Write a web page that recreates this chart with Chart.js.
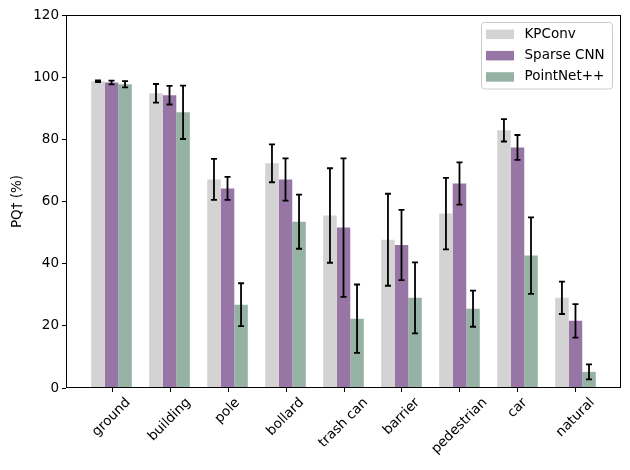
<!DOCTYPE html>
<html>
<head>
<meta charset="utf-8">
<script src="https://cdn.jsdelivr.net/npm/chart.js@4.4.1/dist/chart.umd.min.js"></script>
<style>
  html, body { margin: 0; padding: 0; background: #fff; }
  #wrap { width: 630px; height: 470px; }
</style>
</head>
<body>
<div id="wrap"><canvas id="c" width="630" height="470"></canvas></div>
<script>
const categories = ["ground", "building", "pole", "bollard", "trash can", "barrier", "pedestrian", "car", "natural"];
const seriesNames = ["KPConv", "Sparse CNN", "PointNet++"];
const kpconv      = [98.7, 94.8, 67.1, 72.3, 55.5, 47.7, 56.1, 82.9, 29.0];
const kpconvErr   = [0.3, 3.0, 6.6, 6.1, 15.2, 14.8, 11.5, 3.6, 5.2];
const sparseCnn    = [98.3, 94.2, 64.2, 67.1, 51.6, 46.0, 65.8, 77.4, 21.6];
const sparseCnnErr = [0.6, 3.0, 3.7, 6.8, 22.3, 11.3, 6.8, 4.0, 5.4];
const pointnet    = [97.7, 88.7, 26.8, 53.5, 22.3, 29.0, 25.5, 42.6, 5.2];
const pointnetErr = [1.0, 8.6, 6.9, 8.7, 11.0, 11.4, 5.8, 12.3, 2.4];
const yTicks = [0, 20, 40, 60, 80, 100, 120];
const colors = ["#d3d3d3", "#9776a5", "#96b2a4"];

const FONT = "DejaVu Sans";
const FS = 13.5;
const values = [kpconv, sparseCnn, pointnet];
const errors = [kpconvErr, sparseCnnErr, pointnetErr];

const datasets = values.map((vals, s) => ({
  label: seriesNames[s],
  data: vals.map((v, i) => ({ x: i, y: v })),
  errors: errors[s],
  backgroundColor: colors[s],
  borderWidth: 0,
  categoryPercentage: 0.7,
  barPercentage: 1.0
}));

const errorBarPlugin = {
  id: "errorBars",
  afterDatasetsDraw(chart) {
    const ctx = chart.ctx;
    const yScale = chart.scales.y;
    ctx.save();
    ctx.strokeStyle = "#000";
    ctx.lineWidth = 1.8;
    chart.data.datasets.forEach((ds, di) => {
      const meta = chart.getDatasetMeta(di);
      meta.data.forEach((bar, i) => {
        const v = ds.data[i].y, e = ds.errors[i];
        const yt = yScale.getPixelForValue(v + e);
        const yb = yScale.getPixelForValue(v - e);
        const x = bar.x;
        ctx.beginPath();
        ctx.moveTo(x, yt); ctx.lineTo(x, yb);
        ctx.moveTo(x - 3, yt); ctx.lineTo(x + 3, yt);
        ctx.moveTo(x - 3, yb); ctx.lineTo(x + 3, yb);
        ctx.stroke();
      });
    });
    ctx.restore();
  }
};

const framePlugin = {
  id: "frameAndLegend",
  afterDraw(chart) {
    const ctx = chart.ctx;
    const a = chart.chartArea;
    const L = Math.round(a.left), T = Math.round(a.top), R = Math.round(a.right), B = Math.round(a.bottom);
    ctx.save();
    ctx.strokeStyle = "#000";
    ctx.lineWidth = 1;
    ctx.strokeRect(L + 0.5, T + 0.5, R - L - 1, B - T - 1);

    // x tick marks and rotated category labels, centred on their ticks
    const xs = chart.scales.x;
    ctx.beginPath();
    categories.forEach((lab, i) => {
      const px = Math.round(xs.getPixelForValue(i)) + 0.5;
      ctx.moveTo(px, B);
      ctx.lineTo(px, B + 4);
    });
    ctx.stroke();

    ctx.font = FS + "px '" + FONT + "'";
    ctx.fillStyle = "#000";
    ctx.textAlign = "center";
    ctx.textBaseline = "middle";
    const h = FS * 1.16;
    categories.forEach((lab, i) => {
      const w = ctx.measureText(lab).width;
      const W = (w + h) * Math.SQRT1_2;
      const cx = xs.getPixelForValue(i);
      const cy = a.bottom + 7 + W / 2;
      ctx.save();
      ctx.translate(cx, cy);
      ctx.rotate(-Math.PI / 4);
      ctx.fillText(lab, 0, 0);
      ctx.restore();
    });

    // legend
    const bx = a.right - 139.5, by = a.top + 7.5, bw = 131, bh = 66.5, r = 3;
    ctx.beginPath();
    ctx.moveTo(bx + r, by);
    ctx.lineTo(bx + bw - r, by);
    ctx.arcTo(bx + bw, by, bx + bw, by + r, r);
    ctx.lineTo(bx + bw, by + bh - r);
    ctx.arcTo(bx + bw, by + bh, bx + bw - r, by + bh, r);
    ctx.lineTo(bx + r, by + bh);
    ctx.arcTo(bx, by + bh, bx, by + bh - r, r);
    ctx.lineTo(bx, by + r);
    ctx.arcTo(bx, by, bx + r, by, r);
    ctx.closePath();
    ctx.fillStyle = "rgba(255,255,255,0.8)";
    ctx.fill();
    ctx.strokeStyle = "#cccccc";
    ctx.stroke();
    ctx.textBaseline = "middle";
    ctx.textAlign = "left";
    chart.data.datasets.forEach((ds, i) => {
      const cy = by + 11.8 + i * 21.3;
      ctx.fillStyle = ds.backgroundColor;
      ctx.fillRect(bx + 4.5, cy - 4.7, 28, 9.5);
      ctx.fillStyle = "#000";
      ctx.fillText(ds.label, bx + 43, cy);
    });
    ctx.restore();
  }
};

new Chart(document.getElementById("c"), {
  type: "bar",
  data: { datasets },
  options: {
    responsive: false,
    animation: false,
    devicePixelRatio: 1,
    layout: { padding: { top: 15, right: 9, left: 0, bottom: 0 } },
    plugins: { legend: { display: false }, tooltip: { enabled: false } },
    scales: {
      x: {
        type: "linear",
        min: -0.785,
        max: 8.785,
        offset: false,
        afterFit(scale) { scale.height = 82; },
        afterBuildTicks(scale) { scale.ticks = categories.map((_, i) => ({ value: i })); },
        grid: { display: false },
        border: { display: false },
        ticks: {
          display: false,
          autoSkip: false
        }
      },
      y: {
        min: yTicks[0],
        max: yTicks[yTicks.length - 1],
        afterFit(scale) { scale.width = 66; },
        afterBuildTicks(scale) { scale.ticks = yTicks.map(v => ({ value: v })); },
        grid: { drawOnChartArea: false, drawTicks: true, tickLength: 4, tickColor: "#000", color: "#000" },
        border: { display: false },
        ticks: {
          padding: 3,
          color: "#000",
          font: { family: FONT, size: FS }
        },
        title: {
          display: true,
          text: "PQ† (%)",
          color: "#000",
          font: { family: FONT, size: FS },
          padding: { top: 9, bottom: 0 }
        }
      }
    }
  },
  plugins: [errorBarPlugin, framePlugin]
});
</script>
</body>
</html>
